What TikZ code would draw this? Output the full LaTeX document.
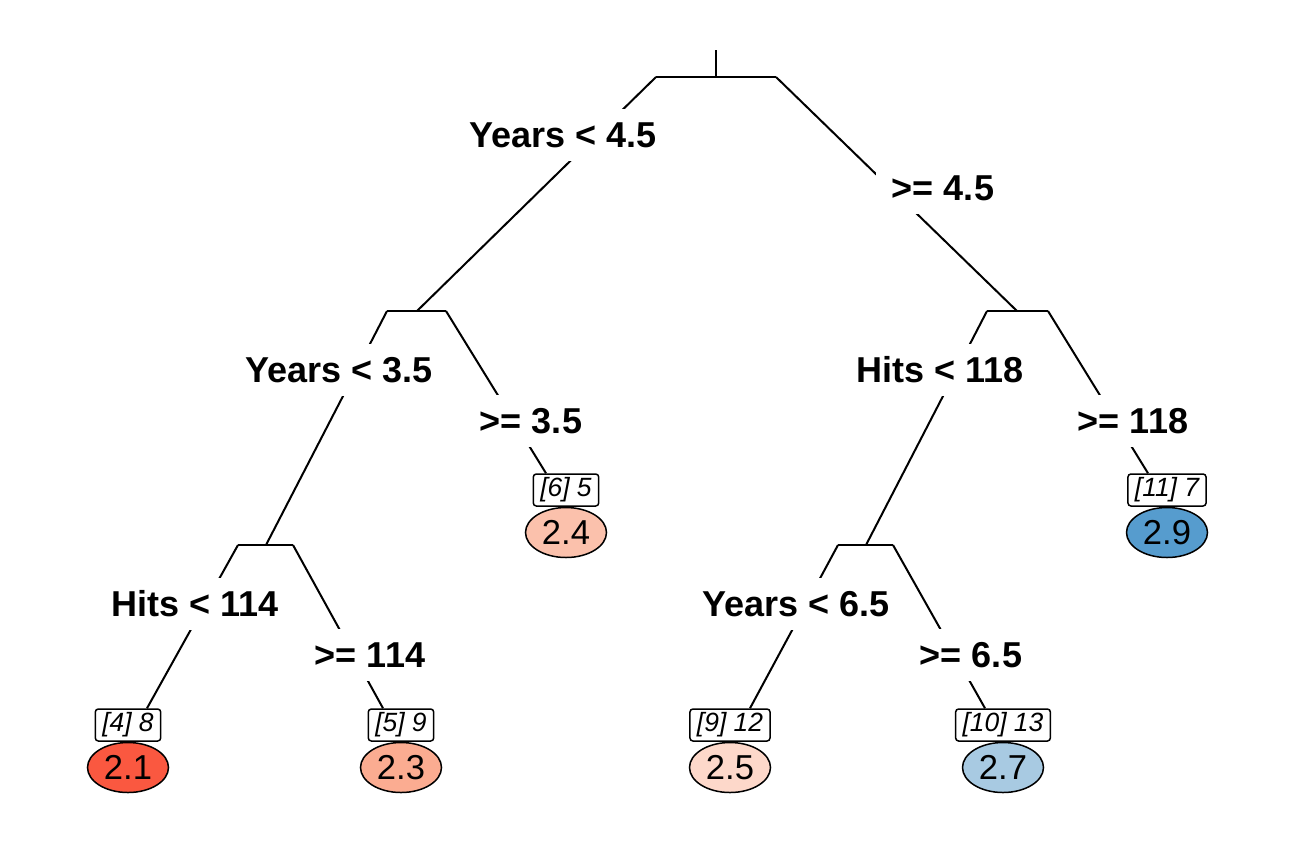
\documentclass[tikz,border=0pt]{standalone}
\usepackage{fontspec}
\setmainfont{Liberation Sans}
\usetikzlibrary{positioning}
\usetikzlibrary{shapes.geometric}

\definecolor{fitA}{RGB}{250,88,64}
\definecolor{fitB}{RGB}{251,172,145}
\definecolor{fitC}{RGB}{251,193,172}
\definecolor{fitD}{RGB}{253,216,202}
\definecolor{fitE}{RGB}{168,202,226}
\definecolor{fitF}{RGB}{86,156,206}

\tikzset{
    splitlab/.style={fill=white, inner xsep=8pt, inner ysep=0pt, minimum height=26pt,
        text height=12.9pt, text depth=0pt, font=\fontsize{18}{21}\selectfont\bfseries},
    nbox/.style={draw, line width=0.75pt, rounded corners=1.5pt, fill=white,
        inner xsep=3.5pt, inner ysep=0pt, minimum height=16pt,
        text height=9.6pt, text depth=2.8pt, font=\fontsize{13.2}{15}\selectfont\itshape},
    fitnode/.style={draw, ellipse, line width=0.75pt, minimum width=40.5pt,
        minimum height=25pt, inner sep=0pt, font=\fontsize{17.3}{20}\selectfont}
}

\begin{document}
\begin{tikzpicture}[x=0.5pt, y=-0.5pt, line width=1pt]
    \useasboundingbox (0,0) rectangle (1296,864);

    % split points and their bars
    \coordinate (top) at (716,50);
    \coordinate (n1) at (716,77);
    \coordinate (n1a) at (656,77);
    \coordinate (n1b) at (776,77);
    \coordinate (n2) at (417,311);
    \coordinate (n2a) at (387,311);
    \coordinate (n2b) at (446,311);
    \coordinate (n3) at (1017,311);
    \coordinate (n3a) at (987,311);
    \coordinate (n3b) at (1048,311);
    \coordinate (n4) at (266,545);
    \coordinate (n4a) at (238,545);
    \coordinate (n4b) at (293,545);
    \coordinate (n7) at (866,545);
    \coordinate (n7a) at (838,545);
    \coordinate (n7b) at (893,545);

    % leaves
    \node[nbox] (b4) at (128,725) {[4] 8};
    \node[fitnode, fill=fitA, below=0pt of b4] (e4) {2.1};
    \node[nbox] (b5) at (401,725) {[5] 9};
    \node[fitnode, fill=fitB, below=0pt of b5] (e5) {2.3};
    \node[nbox] (b6) at (566,490) {[6] 5};
    \node[fitnode, fill=fitC, below=0pt of b6] (e6) {2.4};
    \node[nbox] (b9) at (730,725) {[9] 12};
    \node[fitnode, fill=fitD, below=0pt of b9] (e9) {2.5};
    \node[nbox] (b10) at (1003,725) {[10] 13};
    \node[fitnode, fill=fitE, below=0pt of b10] (e10) {2.7};
    \node[nbox] (b11) at (1167,490) {[11] 7};
    \node[fitnode, fill=fitF, below=0pt of b11] (e11) {2.9};

    % branches
    \draw (top) -- (n1);
    \draw (n1a) -- (n1b);
    \draw (n2a) -- (n2b);
    \draw (n3a) -- (n3b);
    \draw (n4a) -- (n4b);
    \draw (n7a) -- (n7b);
    \draw (n1a) -- (n2);
    \draw (n1b) -- (n3);
    \draw (n2a) -- (n4);
    \draw (n2b) -- ([xshift=-10pt]b6.north);
    \draw (n3a) -- (n7);
    \draw (n3b) -- ([xshift=-9.5pt]b11.north);
    \draw (n4a) -- ([xshift=9.5pt]b4.north);
    \draw (n4b) -- ([xshift=-9pt]b5.north);
    \draw (n7a) -- ([xshift=10pt]b9.north);
    \draw (n7b) -- ([xshift=-9pt]b10.north);

    % split labels
    \node[splitlab] (s1l) at (563,135) {Years < 4.5};
    \node[splitlab] (s1r) at (943,188) {>= 4.5};
    \node[splitlab] (s2l) at (339,370) {Years < 3.5};
    \node[splitlab] (s2r) at (531,421) {>= 3.5};
    \node[splitlab] (s3l) at (940,370) {Hits < 118};
    \node[splitlab] (s3r) at (1133,421) {>= 118};
    \node[splitlab] (s4l) at (195,604) {Hits < 114};
    \node[splitlab] (s4r) at (370,655) {>= 114};
    \node[splitlab] (s7l) at (796,604) {Years < 6.5};
    \node[splitlab] (s7r) at (971,655) {>= 6.5};
\end{tikzpicture}
\end{document}
